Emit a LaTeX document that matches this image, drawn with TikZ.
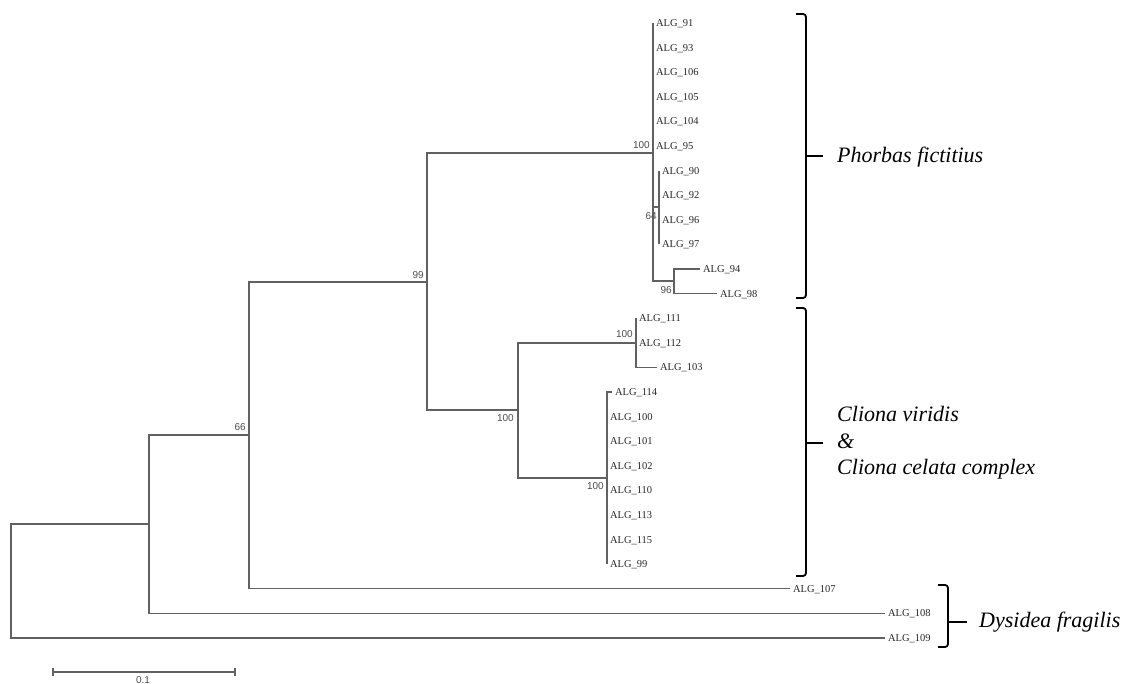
\documentclass[tikz,border=0pt]{standalone}
\usepackage{fontspec}
\setmainfont{Liberation Serif}
\newfontfamily\bsfont{Liberation Sans}
\begin{document}
\begin{tikzpicture}[x=1pt,y=-1pt,
  br/.style={draw=black!62,line width=1.2pt},
  leaf/.style={anchor=west,inner sep=0pt,font=\fontsize{10.5}{12}\selectfont,text=black!85,outer sep=0pt,text depth=0pt},
  bs/.style={inner sep=1pt,font=\bsfont\fontsize{10}{12}\selectfont,text=black!70},
  brk/.style={draw=black,line width=1.8pt,rounded corners=3pt},
  grp/.style={anchor=west,inner sep=0pt,font=\itshape\fontsize{22}{26.5}\selectfont,align=left}]
\useasboundingbox (0,0) rectangle (1131,684);
% internal nodes
\coordinate (root) at (11,581);
\coordinate (n1) at (149,524);
\coordinate (n66c) at (249,435);
\coordinate (n99c) at (427,282);
\coordinate (nP) at (653,153);
\coordinate (n64) at (659,207);
\coordinate (n96) at (674,281);
\coordinate (nC) at (518,410);
\coordinate (nV) at (636,343);
\coordinate (nL) at (607,478);
% leaves (tip coordinates; label begins slightly to the right)
\def\lf#1#2#3{\node[leaf] (L#1) at (#2,#3) {\hspace{3pt}ALG\_#1};}
\lf{91}{653}{23}
\lf{93}{653}{47.6}
\lf{106}{653}{72.2}
\lf{105}{653}{96.8}
\lf{104}{653}{121.4}
\lf{95}{653}{146}
\lf{90}{659}{170.6}
\lf{92}{659}{195.2}
\lf{96}{659}{219.8}
\lf{97}{659}{244.4}
\lf{94}{700}{269}
\lf{98}{717}{293.6}
\lf{111}{636}{318.2}
\lf{112}{636}{342.8}
\lf{103}{657}{367.4}
\lf{114}{612}{392}
\lf{100}{607}{416.6}
\lf{101}{607}{441.2}
\lf{102}{607}{465.8}
\lf{110}{607}{490.4}
\lf{113}{607}{515}
\lf{115}{607}{539.6}
\lf{99}{607}{564.2}
\lf{107}{790}{588.8}
\lf{108}{885}{613.4}
\lf{109}{885}{638}
% branches
\draw[br] (root) |- (n1);
\draw[br] (root) |- (L109.west);
\draw[br] (n1) |- (n66c);
\draw[br] (n1) |- (L108.west);
\draw[br] (n66c) |- (n99c);
\draw[br] (n66c) |- (L107.west);
\draw[br] (n99c) |- (nP);
\draw[br] (n99c) |- (nC);
% Phorbas clade
\draw[br] (nP) |- (L91.west);
\draw[br] (nP) |- (n96);
\draw[br] (nP |- n64) -- (n64);
\draw[br] (n64) |- (L90.west);
\draw[br] (n64) |- (L97.west);
\draw[br] (n96) |- (L94.west);
\draw[br] (n96) |- (L98.west);
% Cliona clade
\draw[br] (nC) |- (nV);
\draw[br] (nC) |- (nL);
\draw[br] (nV) |- (L111.west);
\draw[br] (nV) |- (L103.west);
\draw[br] (nL) |- (L114.west);
\draw[br] (nL) |- (L99.west);
% bootstrap values
\node[bs,anchor=south east] (b100a) at (651,150) {100};
\node[bs,anchor=south east] (b99) at (425,280) {99};
\node[bs,anchor=north east] (b64) at (658,211) {64};
\node[bs,anchor=north east] (b96) at (673,285) {96};
\node[bs,anchor=north east] (b100b) at (515,413) {100};
\node[bs,anchor=south east] (b100c) at (634,339) {100};
\node[bs,anchor=north east] (b100d) at (605,481) {100};
\node[bs,anchor=south east] (b66) at (247,432) {66};
% brackets
\coordinate (p1) at (806,14);
\coordinate (p2) at (806,298);
\coordinate (pm) at (806,156);
\draw[brk] ([xshift=-10pt]p1) -- (p1) -- (p2) -- ([xshift=-10pt]p2);
\draw[line width=1.8pt] (pm) -- ([xshift=17pt]pm);
\node[grp] (gP) at (837,157) {Phorbas fictitius};
\coordinate (c1) at (806,308);
\coordinate (c2) at (806,576);
\coordinate (cm) at (806,443);
\draw[brk] ([xshift=-10pt]c1) -- (c1) -- (c2) -- ([xshift=-10pt]c2);
\draw[line width=1.8pt] (cm) -- ([xshift=17pt]cm);
\node[grp] (gC) at (837,443) {Cliona viridis\\ \&\\ Cliona celata complex};
\coordinate (d1) at (948,585);
\coordinate (d2) at (948,647);
\coordinate (dm) at (948,622);
\draw[brk] ([xshift=-10pt]d1) -- (d1) -- (d2) -- ([xshift=-10pt]d2);
\draw[line width=1.8pt] (dm) -- ([xshift=19pt]dm);
\node[grp] (gD) at (979,622) {Dysidea fragilis};
% scale bar
\coordinate (s1) at (53,672);
\coordinate (s2) at (235,672);
\draw[br,line width=1.1pt] (s1) -- (s2);
\draw[br,line width=1.1pt] ([yshift=-4pt]s1) -- ([yshift=4pt]s1);
\draw[br,line width=1.1pt] ([yshift=-4pt]s2) -- ([yshift=4pt]s2);
\node[bs,anchor=north] (sl) at (143,675) {0.1};
\end{tikzpicture}
\end{document}
